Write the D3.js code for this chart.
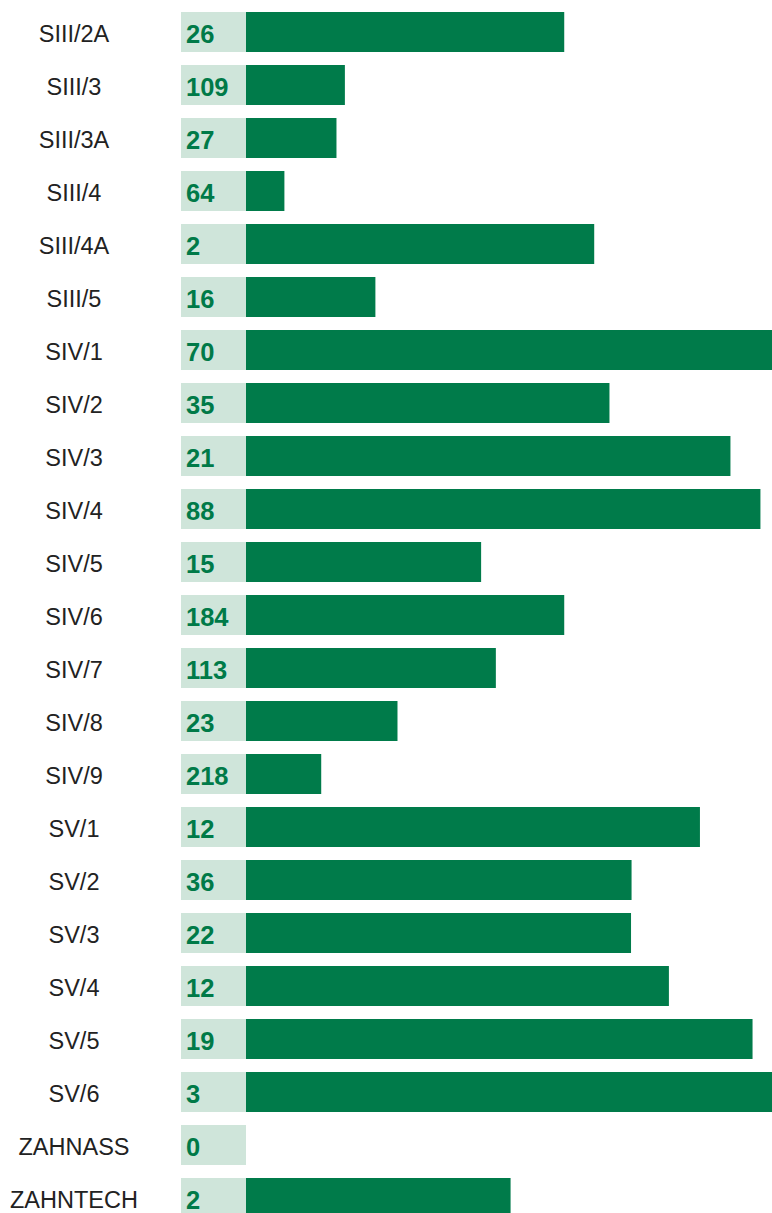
<!DOCTYPE html>
<html>
<head>
<meta charset="utf-8">
<script src="https://cdn.jsdelivr.net/npm/d3@7"></script>
<style>
  html, body { margin: 0; padding: 0; background: #fff; }
  svg { display: block; }
  .cat { font-family: "Liberation Sans", Arial, sans-serif; font-size: 23.5px; fill: #222; }
  .num { font-family: "Liberation Sans", Arial, sans-serif; font-size: 25.5px; font-weight: bold; fill: #007a48; }
</style>
</head>
<body>
<div id="chart"></div>
<script>
// categories, counts shown in the light box, and bar share (percent)
var categories = ["SIII/2A", "SIII/3", "SIII/3A", "SIII/4", "SIII/4A", "SIII/5",
    "SIV/1", "SIV/2", "SIV/3", "SIV/4", "SIV/5", "SIV/6", "SIV/7", "SIV/8", "SIV/9",
    "SV/1", "SV/2", "SV/3", "SV/4", "SV/5", "SV/6", "ZAHNASS", "ZAHNTECH"];
var counts = [26, 109, 27, 64, 2, 16, 70, 35, 21, 88, 15, 184, 113, 23, 218,
    12, 36, 22, 12, 19, 3, 0, 2];
var shares = [60.5, 18.8, 17.2, 7.3, 66.2, 24.6, 100, 69.1, 92.1, 97.8, 44.7, 60.5, 47.5, 28.8, 14.3,
    86.3, 73.3, 73.2, 80.4, 96.3, 100, 0, 50.3];

var width = 772, height = 1213;
var data = categories.map(function (c, i) {
    return { name: c, count: counts[i], share: shares[i] };
});

var svg = d3.select("#chart").append("svg")
    .attr("width", width)
    .attr("height", height);

// rows: 53px pitch, 40px bars
var y = d3.scaleBand()
    .domain(categories)
    .range([5.5, 5.5 + 53 * categories.length])
    .paddingInner(13 / 53)
    .paddingOuter(13 / 106);

var x = d3.scaleLinear()
    .domain([0, 100])
    .range([246, 772]);

var rows = svg.selectAll("g.row")
    .data(data)
    .enter().append("g")
    .attr("class", "row")
    .attr("transform", function (d) { return "translate(0," + y(d.name) + ")"; });

rows.append("rect")
    .attr("x", 181)
    .attr("width", x(0) - 181)
    .attr("height", y.bandwidth())
    .attr("fill", "#cfe5da");

rows.filter(function (d) { return d.share > 0; })
    .append("rect")
    .attr("x", x(0))
    .attr("width", function (d) { return x(d.share) - x(0); })
    .attr("height", y.bandwidth())
    .attr("fill", "#007b4a");

// text sits a little below the bar centre, as in the original
var mid = y.bandwidth() / 2 + 2;

rows.append("text")
    .attr("class", "cat")
    .attr("x", 74)
    .attr("y", mid)
    .attr("dy", "0.35em")
    .attr("text-anchor", "middle")
    .text(function (d) { return d.name; });

rows.append("text")
    .attr("class", "num")
    .attr("x", 186)
    .attr("y", mid)
    .attr("dy", "0.36em")
    .text(function (d) { return d.count; });
</script>
</body>
</html>
